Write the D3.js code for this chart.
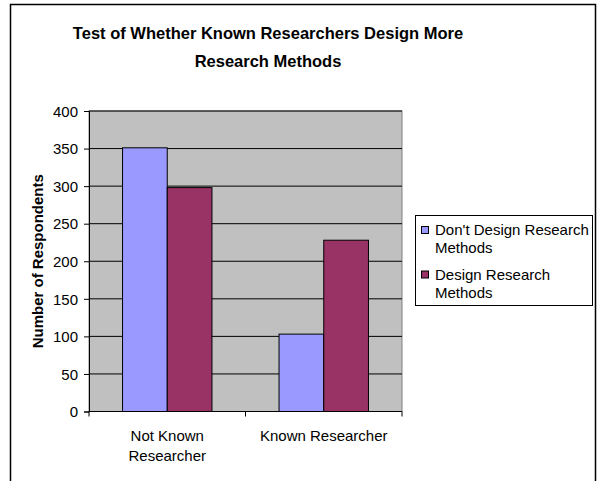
<!DOCTYPE html>
<html>
<head>
<meta charset="utf-8">
<script src="https://cdn.jsdelivr.net/npm/d3@7"></script>
<style>
  body { margin: 0; background: #fff; }
  text { font-family: "Liberation Sans", Arial, sans-serif; fill: #000; }
</style>
</head>
<body>
<svg id="barChart" width="597" height="481"></svg>
<script>
// chart data
const categories = ["Not Known Researcher", "Known Researcher"];
const categoryLabels = [["Not Known", "Researcher"], ["Known Researcher"]];
const series = ["Don't Design Research Methods", "Design Research Methods"];
const seriesLegendLines = [["Don't Design Research", "Methods"], ["Design Research", "Methods"]];
const dontDesign = [351, 103];
const doDesign = [298, 228];
const yTicks = [0, 50, 100, 150, 200, 250, 300, 350, 400];
const colors = ["#9999FF", "#993366"];

const svg = d3.select("#barChart");
const margin = { top: 111, left: 89, right: 195, bottom: 69.5 };
const width = +svg.attr("width");
const height = +svg.attr("height");
const innerWidth = width - margin.left - margin.right;
const innerHeight = height - margin.top - margin.bottom;

// outer frame (bottom edge is below the visible area)
svg.append("path")
  .attr("d", "M10.5,481V4.5H595.5V481")
  .attr("fill", "none").attr("stroke", "#000").attr("stroke-width", 1.5);

// title
const title = svg.append("text")
  .attr("text-anchor", "middle")
  .style("font-size", "16.5px").style("font-weight", "bold");
title.append("tspan").attr("x", 268).attr("y", 39).text("Test of Whether Known Researchers Design More");
title.append("tspan").attr("x", 268).attr("y", 67).text("Research Methods");

const g = svg.append("g").attr("transform", `translate(${margin.left},${margin.top})`);

const x0 = d3.scaleBand().domain(categories).range([0, innerWidth]);
const x1 = d3.scaleBand().domain(series).range([0, x0.bandwidth()]).paddingOuter(0.75);
const y = d3.scaleLinear().domain([0, 400]).range([innerHeight, 0]);

// plot background
g.append("rect")
  .attr("width", innerWidth).attr("height", innerHeight)
  .attr("fill", "#C0C0C0").attr("stroke", "#808080");

// gridlines
g.append("g")
  .selectAll("line")
  .data(yTicks.filter(d => d > 0))
  .enter()
  .append("line")
  .attr("x1", 0).attr("x2", innerWidth)
  .attr("y1", d => y(d)).attr("y2", d => y(d))
  .attr("stroke", "#000").attr("stroke-width", 1);

// bars
const rows = categories.map((c, i) => ({ cat: c, values: [dontDesign[i], doDesign[i]] }));
g.selectAll(".grp")
  .data(rows)
  .enter()
  .append("g")
  .attr("transform", d => `translate(${x0(d.cat)},0)`)
  .selectAll("rect")
  .data(d => d.values.map((v, j) => ({ s: series[j], v: v, j: j })))
  .enter()
  .append("rect")
  .attr("x", d => x1(d.s))
  .attr("y", d => y(d.v))
  .attr("width", x1.bandwidth())
  .attr("height", d => innerHeight - y(d.v))
  .attr("fill", d => colors[d.j])
  .attr("stroke", "#000").attr("stroke-width", 1);

// y axis
const yAxisG = g.append("g")
  .call(d3.axisLeft(y).tickValues(yTicks).tickSize(5).tickPadding(6));
yAxisG.selectAll("text").style("font-size", "15px").attr("dy", "0.35em");
yAxisG.select(".domain").attr("stroke", "#000");

// x axis
const xAxisG = g.append("g").attr("transform", `translate(0,${innerHeight})`);
xAxisG.append("line").attr("x1", 0).attr("x2", innerWidth).attr("stroke", "#000");
xAxisG.selectAll(".xtick")
  .data([0, innerWidth / 2, innerWidth])
  .enter()
  .append("line")
  .attr("x1", d => d).attr("x2", d => d)
  .attr("y1", 0).attr("y2", 5)
  .attr("stroke", "#000");
xAxisG.selectAll(".xlabel")
  .data(categories)
  .enter()
  .append("text")
  .attr("text-anchor", "middle")
  .style("font-size", "15px")
  .each(function (d, i) {
    const t = d3.select(this);
    categoryLabels[i].forEach((line, k) => {
      t.append("tspan")
        .attr("x", x0(d) + x0.bandwidth() / 2)
        .attr("y", 29 + k * 20)
        .text(line);
    });
  });

// y axis title
svg.append("text")
  .attr("transform", `translate(43,${margin.top + innerHeight / 2}) rotate(-90)`)
  .attr("text-anchor", "middle")
  .style("font-size", "15px").style("font-weight", "bold")
  .text("Number of Respondents");

// legend
const legend = svg.append("g");
legend.append("rect")
  .attr("x", 415.5).attr("y", 215.5)
  .attr("width", 177).attr("height", 90)
  .attr("fill", "#fff").attr("stroke", "#000");
series.forEach((s, i) => {
  const top = 226 + i * 44.5;
  legend.append("rect")
    .attr("x", 421.5).attr("y", top + 0.5)
    .attr("width", 7).attr("height", 7)
    .attr("fill", colors[i]).attr("stroke", "#000");
  const t = legend.append("text").style("font-size", "15px");
  seriesLegendLines[i].forEach((line, k) => {
    t.append("tspan").attr("x", 435).attr("y", top + 9 + k * 18).text(line);
  });
});
</script>
</body>
</html>
